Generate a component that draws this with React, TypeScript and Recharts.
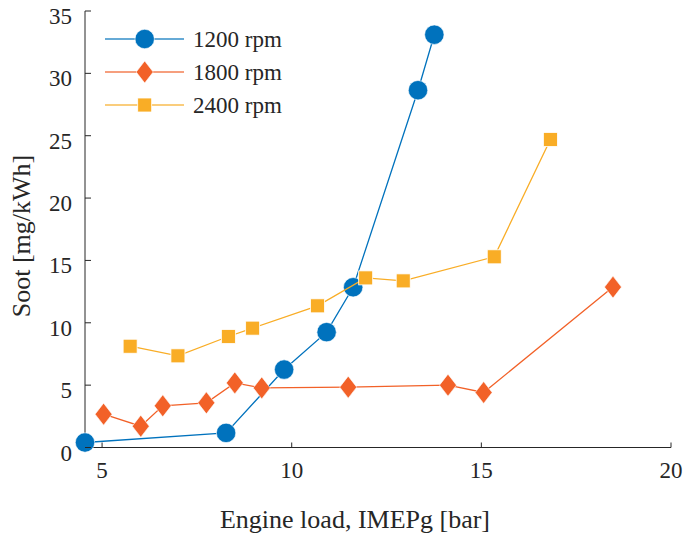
import React from 'react'
import { ComposedChart, Scatter, XAxis, YAxis } from 'recharts'

const FONT = '"Liberation Serif", "DejaVu Serif", serif'
const INK = '#262626'

// engine load [bar] and soot [mg/kWh] per speed
const load1200 = [4.55, 8.27, 9.8, 10.92, 11.62, 13.33, 13.76]
const soot1200 = [0.4, 1.17, 6.25, 9.25, 12.85, 28.65, 33.1]

const load1800 = [5.04, 6.02, 6.6, 7.75, 8.5, 9.21, 11.49, 14.12, 15.06, 18.47]
const soot1800 = [2.67, 1.71, 3.34, 3.58, 5.18, 4.78, 4.84, 5.0, 4.41, 12.86]

const load2400 = [5.74, 7.0, 8.33, 8.97, 10.68, 11.95, 12.94, 15.34, 16.82]
const soot2400 = [8.12, 7.35, 8.9, 9.57, 11.36, 13.6, 13.36, 15.29, 24.7]

const xTicks = [5, 10, 15, 20]
const yTicks = [0, 5, 10, 15, 20, 25, 30, 35]

const seriesNames = ['1200 rpm', '1800 rpm', '2400 rpm']

const BLUE = '#0072BD'
const ORANGE = '#F26128'
const YELLOW = '#F9AD26'

const zip = (xs: number[], ys: number[]) => xs.map((x, i) => ({ x, y: ys[i] }))

const d1200 = zip(load1200, soot1200)
const d1800 = zip(load1800, soot1800)
const d2400 = zip(load2400, soot2400)

const Circle = ({ cx, cy }: any) => <circle cx={cx} cy={cy} r={9.7} fill={BLUE} stroke="#fff" strokeWidth={0.6} />
const Diamond = ({ cx, cy }: any) => (
  <path d={`M${cx},${cy - 11} L${cx + 8.5},${cy} L${cx},${cy + 11} L${cx - 8.5},${cy} Z`} fill={ORANGE} stroke="#fff" strokeWidth={0.6} />
)
const Square = ({ cx, cy }: any) => <rect x={cx - 7} y={cy - 7} width={14} height={14} fill={YELLOW} stroke="#fff" strokeWidth={0.8} />

const XTick = ({ x, y, payload }: any) => (
  <g>
    <line x1={x} y1={y} x2={x} y2={y - 5} stroke={INK} strokeWidth={1} />
    <text x={x} y={y + 30.5} textAnchor="middle" fontSize={23} fontFamily={FONT} fill={INK}>{payload.value}</text>
  </g>
)

const YTick = ({ x, y, payload }: any) => (
  <g>
    <line x1={x} y1={y} x2={x + 6} y2={y} stroke={INK} strokeWidth={1} />
    <text x={x - 13} y={y + 13} textAnchor="end" fontSize={23} fontFamily={FONT} fill={INK}>{payload.value}</text>
  </g>
)

const XTitle = () => (
  <text x={355} y={528} textAnchor="middle" fontSize={26} fontFamily={FONT} fill={INK}>Engine load, IMEPg [bar]</text>
)

const YTitle = () => (
  <text x={29.5} y={236} transform="rotate(-90 29.5 236)" textAnchor="middle" fontSize={26} fontFamily={FONT} fill={INK}>Soot [mg/kWh]</text>
)

const LegendBox = () => {
  const rows = [
    { color: BLUE, mark: (cx: number, cy: number) => <Circle cx={cx} cy={cy} /> },
    { color: ORANGE, mark: (cx: number, cy: number) => <Diamond cx={cx} cy={cy} /> },
    { color: YELLOW, mark: (cx: number, cy: number) => <Square cx={cx} cy={cy} /> },
  ]
  return (
    <svg width={200} height={110} style={{ position: 'absolute', left: 100, top: 20 }}>
      {rows.map((r, i) => {
        const cy = 19 + i * 33
        return (
          <g key={i}>
            <line x1={5} y1={cy} x2={84} y2={cy} stroke={r.color} strokeWidth={1.5} opacity={0.8} />
            {r.mark(44.7, cy)}
            <text x={93} y={cy + 8} fontSize={23} fontFamily={FONT} fill={INK}>{seriesNames[i]}</text>
          </g>
        )
      })}
    </svg>
  )
}

export default function App() {
  return (
    <div style={{ position: 'absolute', left: 0, top: 0, width: 684, height: 536, background: '#fff' }}>
      <ComposedChart width={684} height={536} margin={{ top: 11, right: 13, left: 0, bottom: 28.5 }}>
        <XAxis
          type="number"
          dataKey="x"
          domain={[4.55, 20]}
          ticks={xTicks}
          height={60}
          axisLine={{ stroke: INK, strokeWidth: 1 }}
          tickLine={false}
          tickSize={0}
          tickMargin={0}
          tick={<XTick />}
          label={<XTitle />}
        />
        <YAxis
          type="number"
          dataKey="y"
          domain={[0, 35]}
          ticks={yTicks}
          width={85}
          axisLine={{ stroke: INK, strokeWidth: 1 }}
          tickLine={false}
          tickSize={0}
          tickMargin={0}
          tick={<YTick />}
          label={<YTitle />}
        />
        <Scatter name={seriesNames[0]} data={d1200} line={{ stroke: BLUE, strokeWidth: 1.3 }} shape={<Circle />} isAnimationActive={false} />
        <Scatter name={seriesNames[1]} data={d1800} line={{ stroke: ORANGE, strokeWidth: 1.3 }} shape={<Diamond />} isAnimationActive={false} />
        <Scatter name={seriesNames[2]} data={d2400} line={{ stroke: YELLOW, strokeWidth: 1.3 }} shape={<Square />} isAnimationActive={false} />
      </ComposedChart>
      <LegendBox />
    </div>
  )
}
